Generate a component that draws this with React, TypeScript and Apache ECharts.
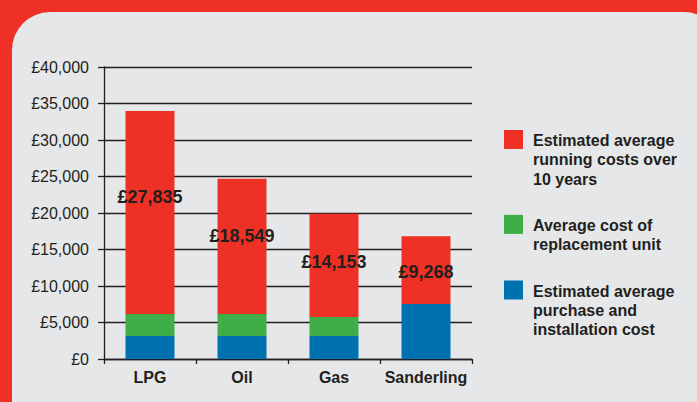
import React, { useEffect, useRef } from 'react';
import * as echarts from 'echarts';

const categories = ['LPG', 'Oil', 'Gas', 'Sanderling'];
const purchaseInstallation = [3150, 3150, 3150, 7530];
const replacementUnit = [3000, 3000, 2600, 0];
const runningCosts = [27835, 18549, 14153, 9268];

const seriesNames = [
  'Estimated average\npurchase and\ninstallation cost',
  'Average cost of\nreplacement unit',
  'Estimated average\nrunning costs over\n10 years',
];

const yMin = 0;
const yMax = 40000;
const yInterval = 5000;

// layout / style (not data)
const COLORS = ['#0071B0', '#3FAE49', '#EE3124'];
const TEXT = '#231F20';
const FONT = '"Liberation Sans", Arial, Helvetica, sans-serif';
const labelNudge = [-15.5, -10, -3, 2];

const fmt = (v: number) => '£' + v.toLocaleString('en-GB');

export default function App() {
  const ref = useRef<HTMLDivElement>(null);

  useEffect(() => {
    const chart = echarts.init(ref.current!, null, { renderer: 'svg' });

    const seriesData = [purchaseInstallation, replacementUnit, runningCosts];

    const series: any[] = seriesData.map((arr, si) => ({
      name: seriesNames[si],
      type: 'bar',
      stack: 'total',
      barWidth: 49,
      itemStyle: { color: COLORS[si] },
      data:
        si === 2
          ? arr.map((v, i) => ({
              value: v,
              label: {
                show: true,
                position: 'inside',
                offset: [0, labelNudge[i]],
                formatter: (p: any) => fmt(p.value),
                color: TEXT,
                fontSize: 18,
                fontWeight: 'bold',
                fontFamily: FONT,
              },
            }))
          : arr,
    }));

    // legend drawn top to bottom: running costs, replacement, purchase
    const legendOrder = [2, 1, 0];
    const lineH = 19.3;
    const gap = 27;
    let top = 130;
    const legendEls: any[] = [];
    legendOrder.forEach((si) => {
      const lines = seriesNames[si].split('\n').length;
      legendEls.push({
        type: 'rect',
        shape: { x: 504, y: top, width: 19, height: 19 },
        style: { fill: COLORS[si] },
      });
      legendEls.push({
        type: 'text',
        x: 533,
        y: top + 1,
        style: {
          text: seriesNames[si],
          fill: TEXT,
          fontSize: 16,
          fontWeight: 'bold',
          fontFamily: FONT,
          lineHeight: lineH,
          verticalAlign: 'top',
          align: 'left',
        },
      });
      top += lines * lineH + gap;
    });

    const option: any = {
      animation: false,
      backgroundColor: 'transparent',
      grid: { left: 104, right: 225, top: 67, bottom: 43, containLabel: false },
      xAxis: {
        type: 'category',
        data: categories,
        axisLine: { show: true, lineStyle: { color: TEXT, width: 1.3 } },
        axisTick: { show: true, length: 5, inside: false, lineStyle: { color: TEXT, width: 1.3 } },
        axisLabel: {
          interval: 0,
          hideOverlap: false,
          color: TEXT,
          fontSize: 16,
          fontWeight: 'bold',
          fontFamily: FONT,
          margin: 10,
        },
      },
      yAxis: {
        type: 'value',
        min: yMin,
        max: yMax,
        interval: yInterval,
        axisLine: { show: true, lineStyle: { color: TEXT, width: 1.3 } },
        axisTick: { show: true, length: 6, inside: false, lineStyle: { color: TEXT, width: 1.3 } },
        splitLine: { show: true, lineStyle: { color: TEXT, width: 1.3 } },
        axisLabel: {
          color: TEXT,
          fontSize: 16,
          fontFamily: FONT,
          margin: 15,
          formatter: (v: number) => fmt(v),
        },
      },
      series,
      graphic: legendEls,
    };

    chart.setOption(option);
    return () => chart.dispose();
  }, []);

  return (
    <div
      style={{
        position: 'fixed',
        left: 0,
        top: 0,
        width: 697,
        height: 402,
        background: '#EE3124',
        overflow: 'hidden',
      }}
    >
      <div
        style={{
          position: 'absolute',
          left: 12,
          top: 12,
          width: 703,
          height: 420,
          background: '#E6E7E8',
          borderRadius: '38px 30px 30px 30px',
        }}
      />
      <div ref={ref} style={{ position: 'absolute', left: 0, top: 0, width: 697, height: 402 }} />
    </div>
  );
}
